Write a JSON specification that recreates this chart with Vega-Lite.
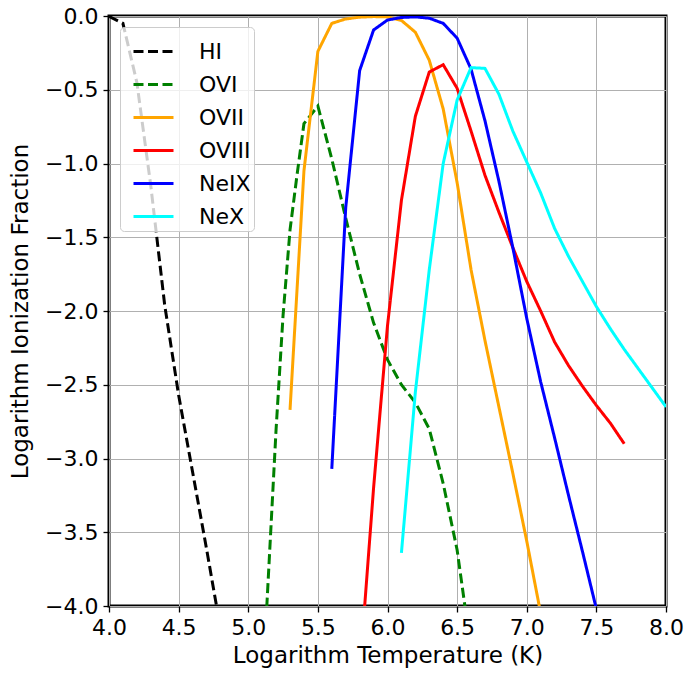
{
  "$schema": "https://vega.github.io/schema/vega-lite/v6.json",
  "width": 557,
  "height": 590,
  "autosize": {"type": "none"},
  "padding": {"left": 109, "top": 16, "right": 23, "bottom": 69},
  "background": "white",
  "config": {
    "font": "DejaVu Sans",
    "view": {"stroke": "black", "strokeWidth": 3},
    "axis": {
      "labelFont": "DejaVu Sans",
      "titleFont": "DejaVu Sans",
      "labelFontSize": 22,
      "titleFontSize": 23,
      "titleFontWeight": "normal",
      "labelColor": "black",
      "titleColor": "black",
      "tickColor": "black",
      "tickSize": 6,
      "tickWidth": 1.3,
      "domain": false,
      "grid": true,
      "gridColor": "#b0b0b0",
      "gridWidth": 1,
      "labelFlush": false,
      "labelOverlap": false
    }
  },
  "data": {
    "values": [
      {"ion": "HI", "logT": 4.0, "frac": -0.003},
      {"ion": "HI", "logT": 4.1, "frac": -0.05},
      {"ion": "HI", "logT": 4.2, "frac": -0.45},
      {"ion": "HI", "logT": 4.3, "frac": -1.15},
      {"ion": "HI", "logT": 4.4, "frac": -1.96},
      {"ion": "HI", "logT": 4.5, "frac": -2.57},
      {"ion": "HI", "logT": 4.6, "frac": -3.09},
      {"ion": "HI", "logT": 4.7, "frac": -3.61},
      {"ion": "HI", "logT": 4.8, "frac": -4.15},

      {"ion": "OVI", "logT": 5.1, "frac": -4.6},
      {"ion": "OVI", "logT": 5.15, "frac": -3.7},
      {"ion": "OVI", "logT": 5.2, "frac": -2.8},
      {"ion": "OVI", "logT": 5.25, "frac": -2.03},
      {"ion": "OVI", "logT": 5.3, "frac": -1.45},
      {"ion": "OVI", "logT": 5.35, "frac": -1.08},
      {"ion": "OVI", "logT": 5.4, "frac": -0.73},
      {"ion": "OVI", "logT": 5.5, "frac": -0.61},
      {"ion": "OVI", "logT": 5.6, "frac": -0.97},
      {"ion": "OVI", "logT": 5.7, "frac": -1.37},
      {"ion": "OVI", "logT": 5.8, "frac": -1.75},
      {"ion": "OVI", "logT": 5.9, "frac": -2.08},
      {"ion": "OVI", "logT": 6.0, "frac": -2.33},
      {"ion": "OVI", "logT": 6.1, "frac": -2.5},
      {"ion": "OVI", "logT": 6.2, "frac": -2.62},
      {"ion": "OVI", "logT": 6.3, "frac": -2.8},
      {"ion": "OVI", "logT": 6.4, "frac": -3.17},
      {"ion": "OVI", "logT": 6.5, "frac": -3.62},
      {"ion": "OVI", "logT": 6.6, "frac": -4.3},

      {"ion": "OVII", "logT": 5.3, "frac": -2.67},
      {"ion": "OVII", "logT": 5.4, "frac": -1.05},
      {"ion": "OVII", "logT": 5.5, "frac": -0.24},
      {"ion": "OVII", "logT": 5.6, "frac": -0.05},
      {"ion": "OVII", "logT": 5.7, "frac": -0.02},
      {"ion": "OVII", "logT": 5.8, "frac": -0.008},
      {"ion": "OVII", "logT": 5.9, "frac": -0.004},
      {"ion": "OVII", "logT": 6.0, "frac": -0.006},
      {"ion": "OVII", "logT": 6.1, "frac": -0.03},
      {"ion": "OVII", "logT": 6.2, "frac": -0.11},
      {"ion": "OVII", "logT": 6.3, "frac": -0.3},
      {"ion": "OVII", "logT": 6.4, "frac": -0.63},
      {"ion": "OVII", "logT": 6.5, "frac": -1.13},
      {"ion": "OVII", "logT": 6.6, "frac": -1.72},
      {"ion": "OVII", "logT": 6.7, "frac": -2.2},
      {"ion": "OVII", "logT": 6.8, "frac": -2.65},
      {"ion": "OVII", "logT": 6.9, "frac": -3.1},
      {"ion": "OVII", "logT": 7.0, "frac": -3.56},
      {"ion": "OVII", "logT": 7.1, "frac": -4.05},

      {"ion": "OVIII", "logT": 5.8, "frac": -4.45},
      {"ion": "OVIII", "logT": 5.9, "frac": -3.2},
      {"ion": "OVIII", "logT": 6.0, "frac": -2.1},
      {"ion": "OVIII", "logT": 6.1, "frac": -1.25},
      {"ion": "OVIII", "logT": 6.2, "frac": -0.68},
      {"ion": "OVIII", "logT": 6.3, "frac": -0.38},
      {"ion": "OVIII", "logT": 6.4, "frac": -0.33},
      {"ion": "OVIII", "logT": 6.5, "frac": -0.49},
      {"ion": "OVIII", "logT": 6.6, "frac": -0.78},
      {"ion": "OVIII", "logT": 6.7, "frac": -1.08},
      {"ion": "OVIII", "logT": 6.8, "frac": -1.33},
      {"ion": "OVIII", "logT": 6.9, "frac": -1.57},
      {"ion": "OVIII", "logT": 7.0, "frac": -1.8},
      {"ion": "OVIII", "logT": 7.1, "frac": -2.0},
      {"ion": "OVIII", "logT": 7.2, "frac": -2.21},
      {"ion": "OVIII", "logT": 7.3, "frac": -2.37},
      {"ion": "OVIII", "logT": 7.4, "frac": -2.51},
      {"ion": "OVIII", "logT": 7.5, "frac": -2.64},
      {"ion": "OVIII", "logT": 7.6, "frac": -2.76},
      {"ion": "OVIII", "logT": 7.7, "frac": -2.9},

      {"ion": "NeIX", "logT": 5.6, "frac": -3.07},
      {"ion": "NeIX", "logT": 5.7, "frac": -1.3},
      {"ion": "NeIX", "logT": 5.8, "frac": -0.37},
      {"ion": "NeIX", "logT": 5.9, "frac": -0.095},
      {"ion": "NeIX", "logT": 6.0, "frac": -0.027},
      {"ion": "NeIX", "logT": 6.1, "frac": -0.01},
      {"ion": "NeIX", "logT": 6.2, "frac": -0.006},
      {"ion": "NeIX", "logT": 6.3, "frac": -0.015},
      {"ion": "NeIX", "logT": 6.4, "frac": -0.05},
      {"ion": "NeIX", "logT": 6.5, "frac": -0.15},
      {"ion": "NeIX", "logT": 6.6, "frac": -0.36},
      {"ion": "NeIX", "logT": 6.7, "frac": -0.71},
      {"ion": "NeIX", "logT": 6.8, "frac": -1.12},
      {"ion": "NeIX", "logT": 6.9, "frac": -1.57},
      {"ion": "NeIX", "logT": 7.0, "frac": -2.05},
      {"ion": "NeIX", "logT": 7.1, "frac": -2.48},
      {"ion": "NeIX", "logT": 7.2, "frac": -2.86},
      {"ion": "NeIX", "logT": 7.3, "frac": -3.25},
      {"ion": "NeIX", "logT": 7.4, "frac": -3.63},
      {"ion": "NeIX", "logT": 7.5, "frac": -4.02},

      {"ion": "NeX", "logT": 6.1, "frac": -3.64},
      {"ion": "NeX", "logT": 6.2, "frac": -2.55},
      {"ion": "NeX", "logT": 6.3, "frac": -1.72},
      {"ion": "NeX", "logT": 6.4, "frac": -1.0},
      {"ion": "NeX", "logT": 6.5, "frac": -0.57},
      {"ion": "NeX", "logT": 6.6, "frac": -0.35},
      {"ion": "NeX", "logT": 6.7, "frac": -0.355},
      {"ion": "NeX", "logT": 6.8, "frac": -0.53},
      {"ion": "NeX", "logT": 6.9, "frac": -0.78},
      {"ion": "NeX", "logT": 7.0, "frac": -0.99},
      {"ion": "NeX", "logT": 7.1, "frac": -1.2},
      {"ion": "NeX", "logT": 7.2, "frac": -1.44},
      {"ion": "NeX", "logT": 7.3, "frac": -1.63},
      {"ion": "NeX", "logT": 7.4, "frac": -1.8},
      {"ion": "NeX", "logT": 7.5, "frac": -1.97},
      {"ion": "NeX", "logT": 7.6, "frac": -2.12},
      {"ion": "NeX", "logT": 7.7, "frac": -2.26},
      {"ion": "NeX", "logT": 7.8, "frac": -2.39},
      {"ion": "NeX", "logT": 7.9, "frac": -2.52},
      {"ion": "NeX", "logT": 8.0, "frac": -2.65}
    ]
  },
  "mark": {"type": "line", "clip": true, "strokeWidth": 3, "strokeCap": "butt"},
  "encoding": {
    "x": {
      "field": "logT",
      "type": "quantitative",
      "scale": {"domain": [4, 8], "nice": false, "zero": false},
      "axis": {
        "title": "Logarithm Temperature (K)",
        "values": [4, 4.5, 5, 5.5, 6, 6.5, 7, 7.5, 8],
        "format": ".1f",
        "labelPadding": 5,
        "titlePadding": 6
      }
    },
    "y": {
      "field": "frac",
      "type": "quantitative",
      "scale": {"domain": [-4, 0], "nice": false, "zero": false},
      "axis": {
        "title": "Logarithm Ionization Fraction",
        "values": [0, -0.5, -1, -1.5, -2, -2.5, -3, -3.5, -4],
        "labelExpr": "replace(format(datum.value, '.1f'), '-', '\u2212')",
        "labelPadding": 5,
        "titlePadding": 12
      }
    },
    "color": {
      "field": "ion",
      "type": "nominal",
      "scale": {
        "domain": ["HI", "OVI", "OVII", "OVIII", "NeIX", "NeX"],
        "range": ["#000000", "#008000", "#ffa500", "#ff0000", "#0000ff", "#00ffff"]
      },
      "legend": {
        "title": null,
        "orient": "top-left",
        "offset": 11,
        "fillColor": "rgba(255,255,255,0.8)",
        "strokeColor": "#cccccc",
        "cornerRadius": 4,
        "padding": 3,
        "symbolOffset": 9,
        "symbolType": "stroke",
        "symbolSize": 1600,
        "symbolStrokeWidth": 3,
        "labelFontSize": 22,
        "labelFont": "DejaVu Sans",
        "labelColor": "black",
        "labelOffset": 24,
        "rowPadding": 0
      }
    },
    "strokeDash": {
      "field": "ion",
      "type": "nominal",
      "scale": {
        "domain": ["HI", "OVI", "OVII", "OVIII", "NeIX", "NeX"],
        "range": [[10, 4.5], [10, 4.5], [1, 0], [1, 0], [1, 0], [1, 0]]
      },
      "legend": null
    }
  }
}
